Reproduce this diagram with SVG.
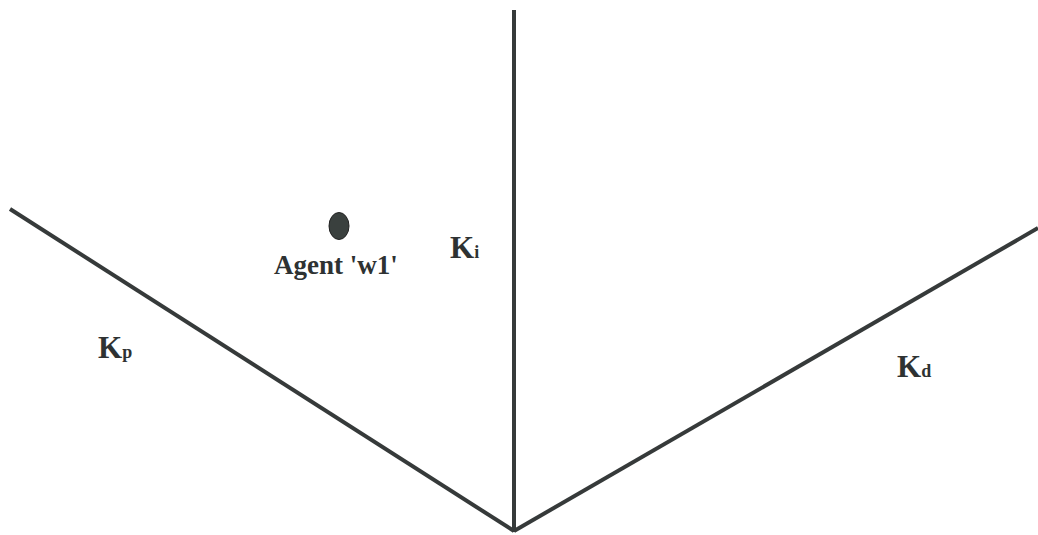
<svg xmlns="http://www.w3.org/2000/svg" width="1038" height="535" viewBox="0 0 1038 535">
<style>
.ln{stroke:#363a3a;stroke-width:4;fill:none;stroke-linecap:butt}
.t{font-family:"Liberation Serif","Times New Roman",serif;font-weight:bold;fill:#2e3232}
.big{font-size:31px}
.sub{font-size:18px}
.lab{font-size:27px}
</style>
<rect width="1038" height="535" fill="#ffffff"/>
<g id="connectors">
<line class="ln" x1="514" y1="10" x2="514" y2="532"/>
<line class="ln" x1="10" y1="209" x2="514" y2="531"/>
<line class="ln" x1="514" y1="531" x2="1038" y2="228"/>
</g>
<g id="agent">
<ellipse cx="339" cy="226" rx="10" ry="13.5" fill="#3a403e" stroke="#222" stroke-width="1"/>
<text class="t lab" x="274" y="274">Agent 'w1'</text>
</g>
<g id="ki"><text class="t" x="450" y="258"><tspan class="big">K</tspan><tspan class="sub">i</tspan></text></g>
<g id="kp"><text class="t" x="98" y="358"><tspan class="big">K</tspan><tspan class="sub">p</tspan></text></g>
<g id="kd"><text class="t" x="897" y="377"><tspan class="big">K</tspan><tspan class="sub">d</tspan></text></g>
</svg>
